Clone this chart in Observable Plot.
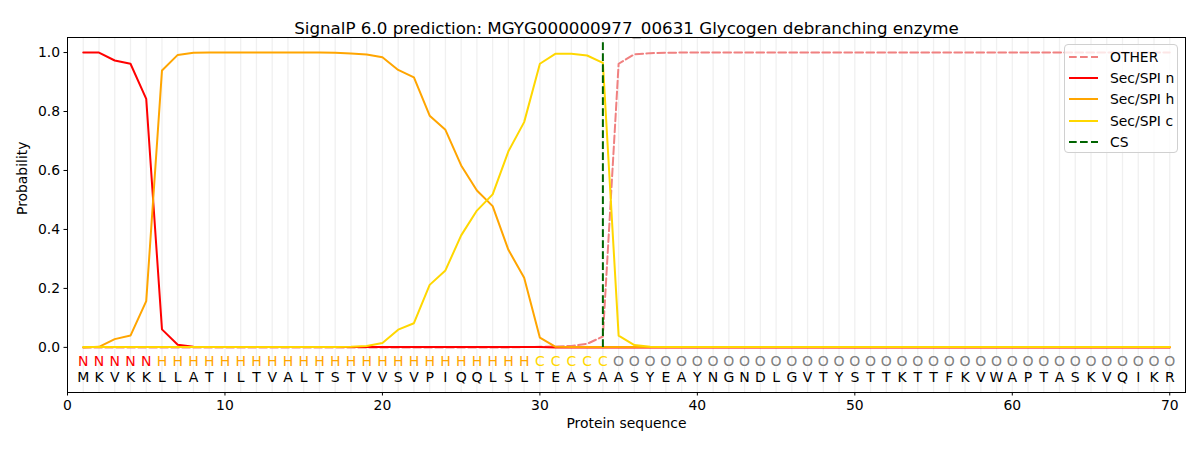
<!DOCTYPE html>
<html>
<head>
<meta charset="utf-8">
<script src="https://cdn.jsdelivr.net/npm/d3@7"></script>
<script src="https://cdn.jsdelivr.net/npm/@observablehq/plot@0.6"></script>
<style>
  body { margin: 0; background: #fff; font-family: "DejaVu Sans", sans-serif; }
  #wrap { position: relative; width: 1200px; height: 450px; }
  #legend { position: absolute; left: 1064px; top: 44px; width: 112px; height: 107px;
    border: 1px solid #d0d0d0; border-radius: 4px; background: rgba(255,255,255,0.8);
    font-family: "DejaVu Sans", sans-serif; font-size: 13.9px; color: #000; }
  #legend .row { position: absolute; left: 0; height: 20px; display: flex; align-items: center; }
  #legend svg { margin-left: 4px; margin-right: 12px; }
</style>
</head>
<body>
<div id="wrap"><div id="chart"></div><div id="legend"></div></div>
<script>
const title = "SignalP 6.0 prediction: MGYG000000977_00631 Glycogen debranching enzyme";
const sequence = "MKVKKLLATILTVALTSTVVSVPIQQLSLTEASAASYEAYNGNDLGVTYSTTKTTFKVWAPTASKVQIKR".split("");
const regionLabels = "NNNNNHHHHHHHHHHHHHHHHHHHHHHHHCCCCCOOOOOOOOOOOOOOOOOOOOOOOOOOOOOOOOOOOO".split("");
const positions = sequence.map((_, i) => i + 1);
const csPosition = 34;

const secN = [1.0, 1.0, 0.973, 0.962, 0.843, 0.061, 0.009, 0.002, 0.001, 0.001,
  0.001, 0.001, 0.001, 0.001, 0.001, 0.001, 0.001, 0.001, 0.001, 0.001,
  0.001, 0.001, 0.001, 0.001, 0.001, 0.001, 0.001, 0.001, 0.001, 0.001,
  0.0, 0.0, 0.0, 0.0, 0.0, 0.0, 0.0, 0.0, 0.0, 0.0,
  0.0, 0.0, 0.0, 0.0, 0.0, 0.0, 0.0, 0.0, 0.0, 0.0,
  0.0, 0.0, 0.0, 0.0, 0.0, 0.0, 0.0, 0.0, 0.0, 0.0,
  0.0, 0.0, 0.0, 0.0, 0.0, 0.0, 0.0, 0.0, 0.0, 0.0];
const secH = [0.0, 0.002, 0.028, 0.040, 0.157, 0.939, 0.992, 0.999, 1.0, 1.0,
  1.0, 1.0, 1.0, 1.0, 1.0, 1.0, 0.999, 0.997, 0.993, 0.984,
  0.941, 0.916, 0.786, 0.738, 0.617, 0.532, 0.479, 0.331, 0.236, 0.033,
  0.002, 0.001, 0.001, 0.001, 0.001, 0.001, 0.001, 0.001, 0.001, 0.001,
  0.001, 0.001, 0.001, 0.001, 0.001, 0.001, 0.001, 0.001, 0.001, 0.001,
  0.001, 0.001, 0.001, 0.001, 0.001, 0.001, 0.001, 0.001, 0.001, 0.001,
  0.001, 0.001, 0.001, 0.001, 0.001, 0.001, 0.001, 0.001, 0.001, 0.001];
const secC = [0.001, 0.001, 0.001, 0.001, 0.001, 0.001, 0.001, 0.001, 0.001, 0.001,
  0.001, 0.001, 0.001, 0.001, 0.001, 0.001, 0.001, 0.002, 0.005, 0.015,
  0.060, 0.082, 0.212, 0.261, 0.380, 0.464, 0.519, 0.665, 0.764, 0.962,
  0.996, 0.996, 0.990, 0.965, 0.040, 0.008, 0.002, 0.001, 0.001, 0.001,
  0.001, 0.001, 0.001, 0.001, 0.001, 0.001, 0.001, 0.001, 0.001, 0.001,
  0.001, 0.001, 0.001, 0.001, 0.001, 0.001, 0.001, 0.001, 0.001, 0.001,
  0.001, 0.001, 0.001, 0.001, 0.001, 0.001, 0.001, 0.001, 0.001, 0.001];
const other = [0.0, 0.0, 0.0, 0.0, 0.0, 0.0, 0.0, 0.0, 0.0, 0.0,
  0.0, 0.0, 0.0, 0.0, 0.0, 0.0, 0.0, 0.0, 0.0, 0.0,
  0.0, 0.0, 0.0, 0.0, 0.0, 0.0, 0.0, 0.0, 0.001, 0.002,
  0.003, 0.005, 0.012, 0.037, 0.962, 0.994, 0.998, 0.999, 1.0, 1.0,
  1.0, 1.0, 1.0, 1.0, 1.0, 1.0, 1.0, 1.0, 1.0, 1.0,
  1.0, 1.0, 1.0, 1.0, 1.0, 1.0, 1.0, 1.0, 1.0, 1.0,
  1.0, 1.0, 1.0, 1.0, 1.0, 1.0, 1.0, 1.0, 1.0, 1.0];

const xTicks = [0, 10, 20, 30, 40, 50, 60, 70];
const yTicks = [0, 0.2, 0.4, 0.6, 0.8, 1.0];

const series = [
  {name: "OTHER", values: other, color: "#f08080", dash: "7.7,3.3"},
  {name: "Sec/SPI n", values: secN, color: "#ff0000", dash: null},
  {name: "Sec/SPI h", values: secH, color: "#ffa500", dash: null},
  {name: "Sec/SPI c", values: secC, color: "#ffd700", dash: null}
];
const regionColor = {N: "#ff0000", H: "#ffa500", C: "#ffd700", O: "#808080"};

const lineMarks = series.map(s => Plot.line(positions.map((p, i) => ({x: p, y: s.values[i]})), {
  x: "x", y: "y", stroke: s.color, strokeWidth: 2, strokeDasharray: s.dash
}));

const chart = Plot.plot({
  width: 1200, height: 450,
  marginLeft: 67, marginRight: 15, marginTop: 37, marginBottom: 58,
  style: {fontFamily: "DejaVu Sans, sans-serif", fontSize: "13.9px", background: "#fff"},
  x: {domain: [0, 71]},
  y: {domain: [-0.153, 1.051]},
  marks: [
    Plot.ruleX(positions, {stroke: "#f0f0f0", strokeWidth: 1.3}),
    ...lineMarks,
    Plot.ruleX([csPosition], {y1: 0, y2: 1.04, stroke: "#006400", strokeWidth: 2, strokeDasharray: "7.7,3.3"}),
    Plot.text(regionLabels, {x: (d, i) => i + 1, y: -0.047, text: d => d, fill: d => regionColor[d], fontSize: 14}),
    Plot.text(sequence, {x: (d, i) => i + 1, y: -0.102, text: d => d, fill: "#000", fontSize: 14}),
    Plot.frame({stroke: "#000", strokeWidth: 1}),
    Plot.axisX({ticks: xTicks, tickSize: 3.5, tickPadding: 4, label: null, tickFormat: d => String(d), fontSize: 13.9}),
    Plot.axisY({ticks: yTicks, tickSize: 3.5, tickPadding: 4, label: null, tickFormat: d => d.toFixed(1), fontSize: 13.9}),
    Plot.text([title], {frameAnchor: "top", dy: -15, fontSize: 16.7, fill: "#000"}),
    Plot.text(["Protein sequence"], {frameAnchor: "bottom", dy: 35, fontSize: 13.9, fill: "#000"}),
    Plot.text(["Probability"], {frameAnchor: "left", dx: -45, rotate: -90, fontSize: 13.9, fill: "#000"})
  ]
});
document.getElementById("chart").appendChild(chart);

const legendItems = [
  {name: "OTHER", color: "#f08080", dash: "7.7,3.3"},
  {name: "Sec/SPI n", color: "#ff0000", dash: null},
  {name: "Sec/SPI h", color: "#ffa500", dash: null},
  {name: "Sec/SPI c", color: "#ffd700", dash: null},
  {name: "CS", color: "#006400", dash: "7.7,3.3"}
];
const legend = document.getElementById("legend");
legendItems.forEach((it, i) => {
  const row = document.createElement("div");
  row.className = "row";
  row.style.top = (1.7 + i * 21.3) + "px";
  row.innerHTML = `<svg width="29" height="20"><line x1="0" x2="29" y1="10" y2="10" stroke="${it.color}" stroke-width="2" ${it.dash ? `stroke-dasharray="${it.dash}"` : ""}/></svg><span>${it.name}</span>`;
  legend.appendChild(row);
});
</script>
</body>
</html>
